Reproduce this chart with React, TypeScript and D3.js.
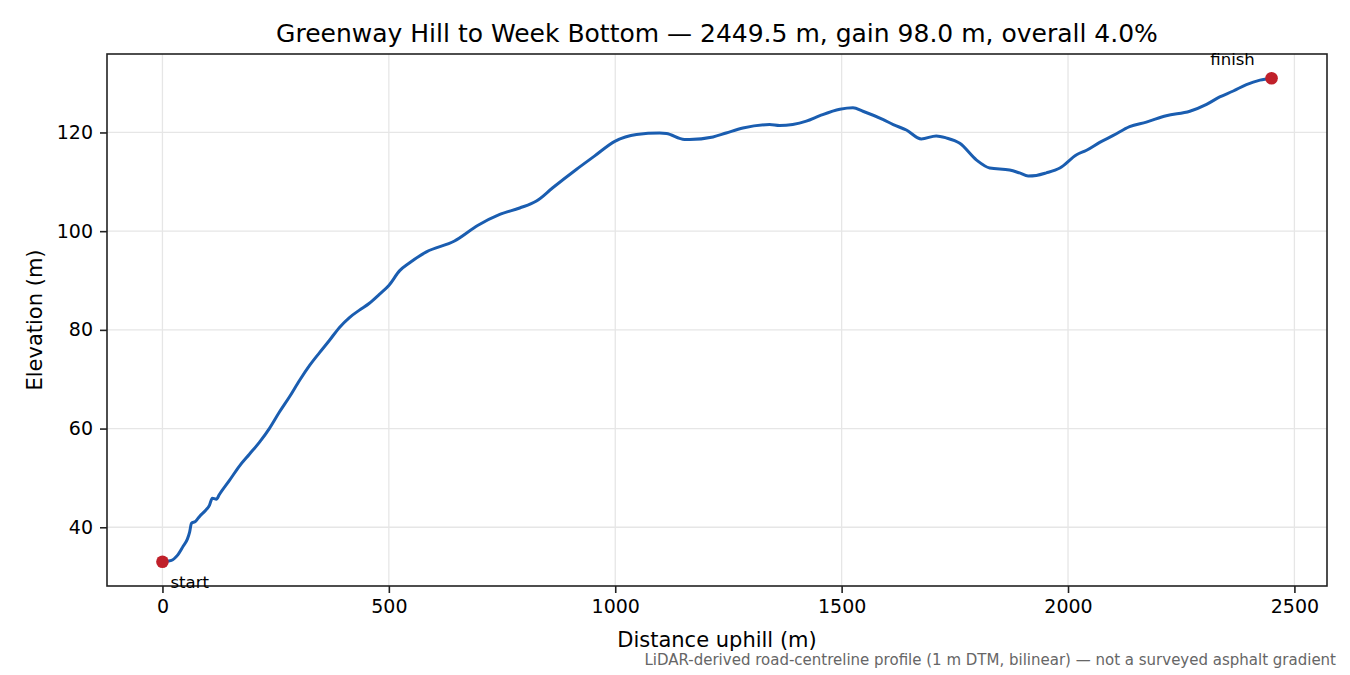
import React, { useEffect, useRef } from "react";
import * as d3 from "d3";

// profile (distance uphill in m, elevation in m)
const distance = [
  0, 20, 33, 46, 55, 60, 64, 73, 82, 95, 104, 110, 119, 126, 148, 170, 192, 214,
  236, 258, 281, 303, 325, 347, 369, 391, 413, 435, 457, 479, 500, 524, 546, 583,
  645, 697, 745, 789, 826, 862, 914, 954, 999, 1047, 1098, 1113, 1153, 1164, 1216,
  1245, 1282, 1341, 1363, 1422, 1452, 1496, 1525, 1547, 1592, 1614, 1643, 1676,
  1709, 1731, 1761, 1798, 1827, 1871, 1893, 1912, 1930, 1952, 1982, 2019, 2041,
  2070, 2100, 2136, 2173, 2217, 2269, 2306, 2335, 2365, 2394, 2424, 2449.5,
];
const elevation = [
  33.0, 33.3, 34.3, 36.2, 37.6, 39.0, 40.8, 41.2, 42.2, 43.4, 44.5, 45.9, 45.7,
  46.7, 49.5, 52.4, 54.8, 57.2, 60.0, 63.3, 66.5, 69.8, 72.8, 75.4, 77.9, 80.5,
  82.5, 84.0, 85.4, 87.2, 89.0, 92.0, 93.6, 95.8, 98.0, 101.2, 103.4, 104.7,
  106.1, 108.8, 112.5, 115.2, 118.2, 119.6, 119.9, 119.8, 118.6, 118.6, 119.1,
  119.9, 120.9, 121.6, 121.4, 122.3, 123.4, 124.7, 125.0, 124.3, 122.6, 121.6,
  120.5, 118.7, 119.3, 118.9, 117.8, 114.4, 112.8, 112.4, 111.8, 111.2, 111.3,
  111.8, 112.8, 115.5, 116.4, 118.0, 119.4, 121.2, 122.1, 123.4, 124.3, 125.7,
  127.2, 128.4, 129.7, 130.6, 131.0,
];
const xTicks = [0, 500, 1000, 1500, 2000, 2500];
const yTicks = [40, 60, 80, 100, 120];

const title = "Greenway Hill to Week Bottom — 2449.5 m, gain 98.0 m, overall 4.0%";
const footnote =
  "LiDAR-derived road-centreline profile (1 m DTM, bilinear) — not a surveyed asphalt gradient";

const FONT = "DejaVu Sans, sans-serif";

const App: React.FC = () => {
  const svgRef = useRef<SVGSVGElement | null>(null);

  useEffect(() => {
    if (!svgRef.current) return;
    const svg = d3.select(svgRef.current);
    svg.selectAll("*").remove();

    const margin = { top: 54, right: 23, bottom: 89, left: 107 };
    const width = 1350;
    const height = 675;

    const pts = distance.map((d, i) => ({ d, e: elevation[i] }));
    const xExt = d3.extent(distance) as [number, number];
    const yExt = d3.extent(elevation) as [number, number];
    const xPad = (xExt[1] - xExt[0]) * 0.05;
    const yPad = (yExt[1] - yExt[0]) * 0.05;

    const x = d3
      .scaleLinear()
      .domain([xExt[0] - xPad, xExt[1] + xPad])
      .range([margin.left, width - margin.right]);
    const y = d3
      .scaleLinear()
      .domain([yExt[0] - yPad, yExt[1] + yPad])
      .range([height - margin.bottom, margin.top]);

    const top = margin.top;
    const bottom = height - margin.bottom;
    const left = margin.left;
    const right = width - margin.right;

    // grid
    svg
      .append("g")
      .selectAll("line")
      .data(xTicks)
      .enter()
      .append("line")
      .attr("x1", (d) => x(d))
      .attr("x2", (d) => x(d))
      .attr("y1", top)
      .attr("y2", bottom)
      .attr("stroke", "#e6e6e6")
      .attr("stroke-width", 1.3);
    svg
      .append("g")
      .selectAll("line")
      .data(yTicks)
      .enter()
      .append("line")
      .attr("x1", left)
      .attr("x2", right)
      .attr("y1", (d) => y(d))
      .attr("y2", (d) => y(d))
      .attr("stroke", "#e6e6e6")
      .attr("stroke-width", 1.3);

    // axes
    const xAxis = d3.axisBottom(x).tickValues(xTicks).tickSize(7).tickPadding(7).tickFormat(d3.format("d"));
    const yAxis = d3.axisLeft(y).tickValues(yTicks).tickSize(7).tickPadding(7).tickFormat(d3.format("d"));

    const gx = svg.append("g").attr("transform", `translate(0, ${bottom})`).call(xAxis);
    const gy = svg.append("g").attr("transform", `translate(${left}, 0)`).call(yAxis);
    [gx, gy].forEach((g) => {
      g.select(".domain").remove();
      g.selectAll("line").attr("stroke", "#222").attr("stroke-width", 1.6);
      g.selectAll("text").attr("font-family", FONT).attr("font-size", 19).attr("fill", "#000");
    });

    // frame
    svg
      .append("rect")
      .attr("x", left)
      .attr("y", top)
      .attr("width", right - left)
      .attr("height", bottom - top)
      .attr("fill", "none")
      .attr("stroke", "#222")
      .attr("stroke-width", 1.6);

    // profile line
    const line = d3
      .line<{ d: number; e: number }>()
      .x((p) => x(p.d))
      .y((p) => y(p.e))
      .curve(d3.curveMonotoneX);
    svg
      .append("path")
      .datum(pts)
      .attr("d", line)
      .attr("fill", "none")
      .attr("stroke", "#1a5db0")
      .attr("stroke-width", 3)
      .attr("stroke-linejoin", "round");

    // start / finish markers
    const first = pts[0];
    const last = pts[pts.length - 1];
    svg
      .selectAll("circle.end")
      .data([first, last])
      .enter()
      .append("circle")
      .attr("class", "end")
      .attr("cx", (p) => x(p.d))
      .attr("cy", (p) => y(p.e))
      .attr("r", 6.3)
      .attr("fill", "#c0202a");

    svg
      .append("text")
      .attr("x", x(first.d) + 8)
      .attr("y", y(first.e) + 26)
      .attr("font-family", FONT)
      .attr("font-size", 16.5)
      .text("start");
    svg
      .append("text")
      .attr("x", x(last.d) - 39)
      .attr("y", y(last.e) - 13)
      .attr("text-anchor", "middle")
      .attr("font-family", FONT)
      .attr("font-size", 16.5)
      .text("finish");

    // titles
    svg
      .append("text")
      .attr("x", (left + right) / 2)
      .attr("y", 42)
      .attr("text-anchor", "middle")
      .attr("font-family", FONT)
      .attr("font-size", 25)
      .text(title);
    svg
      .append("text")
      .attr("x", (left + right) / 2)
      .attr("y", 647)
      .attr("text-anchor", "middle")
      .attr("font-family", FONT)
      .attr("font-size", 21)
      .text("Distance uphill (m)");
    svg
      .append("text")
      .attr("transform", `translate(42, ${(top + bottom) / 2}) rotate(-90)`)
      .attr("text-anchor", "middle")
      .attr("font-family", FONT)
      .attr("font-size", 21)
      .text("Elevation (m)");
    svg
      .append("text")
      .attr("x", 1336)
      .attr("y", 665)
      .attr("text-anchor", "end")
      .attr("font-family", FONT)
      .attr("font-size", 15)
      .attr("fill", "#666")
      .text(footnote);
  }, []);

  return (
    <svg
      ref={svgRef}
      width={1350}
      height={675}
      style={{ position: "absolute", left: 0, top: 0, background: "#fff" }}
    ></svg>
  );
};

export default App;
